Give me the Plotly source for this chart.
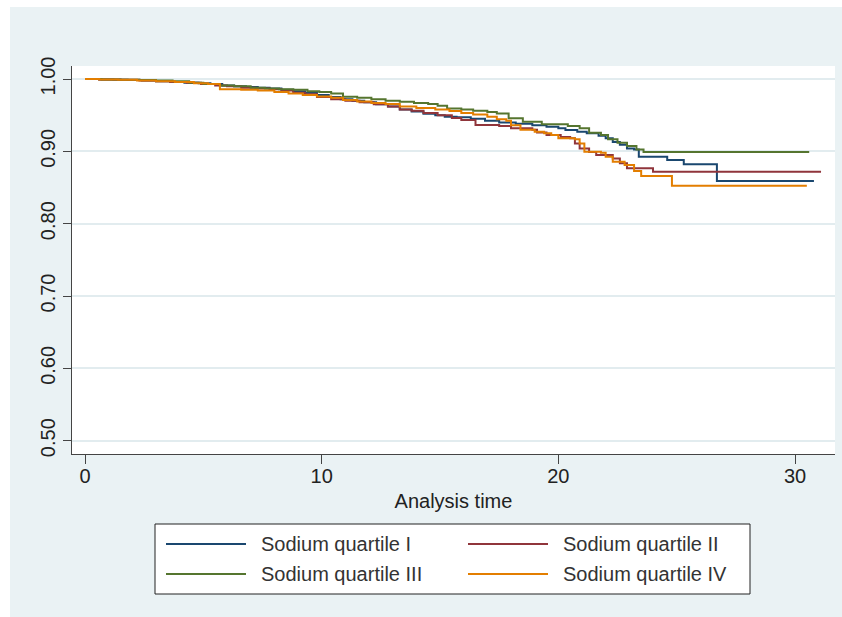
import plotly.graph_objects as go

# ---- data (Kaplan-Meier step knots) ----
series_names = ["Sodium quartile I", "Sodium quartile II", "Sodium quartile III", "Sodium quartile IV"]
series_colors = ["#1a476f", "#90353b", "#55752f", "#e37e00"]

t_q1 = [0, 0.6, 1.2, 1.8, 2.4, 3.0, 3.6, 4.2, 4.8, 5.3, 5.8, 6.3, 6.8, 7.3, 7.8, 8.3, 8.8, 9.3, 9.8,
        10.3, 10.8, 11.3, 11.8, 12.3, 12.8, 13.3, 13.8, 14.3, 14.8, 15.2, 15.7, 16.3, 16.9, 17.5, 18.2,
        18.9, 19.5, 20.0, 20.3, 20.8, 21.2, 21.7, 22.0, 22.3, 22.6, 22.9, 23.2, 23.4, 24.6, 25.3, 26.7, 30.8]
s_q1 = [1.0, 0.9995, 0.999, 0.9985, 0.998, 0.997, 0.996, 0.995, 0.994, 0.993, 0.991, 0.990, 0.989, 0.988,
        0.987, 0.985, 0.983, 0.981, 0.978, 0.975, 0.972, 0.970, 0.968, 0.965, 0.962, 0.958, 0.955, 0.952,
        0.950, 0.948, 0.947, 0.945, 0.9424, 0.940, 0.938, 0.936, 0.934, 0.932, 0.9295, 0.927, 0.925, 0.9216,
        0.918, 0.913, 0.909, 0.904, 0.9027, 0.8925, 0.888, 0.882, 0.859, 0.859]

t_q2 = [0, 0.6, 1.5, 2.3, 3.0, 3.6, 4.3, 4.9, 5.5, 6.0, 6.6, 7.2, 7.8, 8.3, 8.8, 9.3, 9.8, 10.4, 11.0,
        11.6, 12.2, 12.8, 13.3, 13.8, 14.3, 14.9, 15.5, 15.9, 16.5, 17.5, 18.0, 18.9, 19.1, 19.5, 20.1,
        20.5, 20.7, 20.9, 21.3, 21.6, 22.3, 22.6, 22.9, 24.0, 31.1]
s_q2 = [1.0, 0.9995, 0.999, 0.998, 0.997, 0.996, 0.995, 0.993, 0.991, 0.990, 0.988, 0.987, 0.986, 0.984,
        0.981, 0.979, 0.975, 0.972, 0.970, 0.968, 0.965, 0.962, 0.958, 0.956, 0.953, 0.950, 0.946, 0.9433,
        0.9364, 0.935, 0.9318, 0.930, 0.926, 0.9225, 0.920, 0.918, 0.911, 0.904, 0.899, 0.8949, 0.890,
        0.8834, 0.8765, 0.8718, 0.8718]

t_q3 = [0, 0.7, 1.5, 2.3, 3.0, 3.7, 4.4, 5.0, 5.7, 6.3, 7.0, 7.6, 8.2, 8.8, 9.4, 9.9, 10.4, 10.9, 11.5,
        12.1, 12.7, 13.3, 13.9, 14.5, 14.9, 15.3, 15.9, 16.4, 17.0, 17.4, 17.9, 18.5, 19.3, 20.4, 20.9,
        21.3, 21.8, 22.1, 22.5, 22.9, 23.3, 23.6, 30.6]
s_q3 = [1.0, 0.9995, 0.999, 0.9985, 0.998, 0.997, 0.995, 0.993, 0.991, 0.990, 0.988, 0.987, 0.986, 0.985,
        0.983, 0.982, 0.980, 0.9755, 0.974, 0.972, 0.970, 0.9686, 0.967, 0.9654, 0.963, 0.9594, 0.958,
        0.956, 0.9545, 0.9525, 0.9456, 0.941, 0.9373, 0.935, 0.9318, 0.9257, 0.9225, 0.9166, 0.912,
        0.9073, 0.9027, 0.899, 0.899]

t_q4 = [0, 0.6, 1.4, 2.2, 3.0, 3.8, 4.6, 5.2, 5.7, 6.6, 7.3, 8.0, 8.6, 9.2, 9.8, 10.4, 10.9, 11.5, 12.1,
        12.7, 13.3, 14.0, 14.8, 15.4, 15.9, 16.4, 17.0, 17.4, 17.8, 18.0, 18.4, 19.0, 19.4, 19.7, 20.0,
        20.7, 20.9, 21.1, 21.8, 22.0, 22.3, 22.8, 23.2, 23.5, 24.8, 30.5]
s_q4 = [1.0, 0.9995, 0.999, 0.998, 0.997, 0.996, 0.994, 0.993, 0.9857, 0.985, 0.984, 0.982, 0.980, 0.978,
        0.976, 0.974, 0.971, 0.969, 0.967, 0.9654, 0.962, 0.960, 0.958, 0.9557, 0.953, 0.951, 0.9479,
        0.9445, 0.9424, 0.936, 0.930, 0.927, 0.925, 0.9225, 0.918, 0.9166, 0.911, 0.8995, 0.898, 0.8925,
        0.8856, 0.881, 0.873, 0.866, 0.8524, 0.8524]

x_ticks = [0, 10, 20, 30]
y_ticks = [0.5, 0.6, 0.7, 0.8, 0.9, 1.0]
y_tick_labels = ["0.50", "0.60", "0.70", "0.80", "0.90", "1.00"]
x_title = "Analysis time"

times = [t_q1, t_q2, t_q3, t_q4]
survs = [s_q1, s_q2, s_q3, s_q4]

FONT = "Liberation Sans, Arial, Helvetica, sans-serif"
BG = "#EAF2F4"
GRID = "#E2ECEF"
AXC = "#444444"
TXT = "#222222"

fig = go.Figure()
for name, col, t, s in zip(series_names, series_colors, times, survs):
    fig.add_trace(go.Scatter(x=t, y=s, mode="lines", name=name,
                             line=dict(color=col, width=2, shape="hv"),
                             showlegend=False))

# plot area in pixels: x 72..835, y 66..454
W, H = 842, 617
L, R, T, B = 72, 835, 66, 454
pw, ph = R - L, B - T

def px(x):
    return (x - L) / pw

def py(y):
    return (B - y) / ph

shapes = []
# white strips outside the light-blue graph region
shapes.append(dict(type="rect", xref="paper", yref="paper", x0=px(-5), x1=px(10), y0=py(625), y1=py(-5),
                   fillcolor="white", line=dict(width=0), layer="below"))
shapes.append(dict(type="rect", xref="paper", yref="paper", x0=px(-5), x1=px(850), y0=py(7), y1=py(-5),
                   fillcolor="white", line=dict(width=0), layer="below"))
# legend box
shapes.append(dict(type="rect", xref="paper", yref="paper", x0=px(155), x1=px(750), y0=py(594), y1=py(524),
                   fillcolor="white", line=dict(color="#222222", width=1)))

leg_pos = [(166, 544), (468, 544), (166, 574), (468, 574)]
annotations = []
for (lx, ly), name, col in zip(leg_pos, series_names, series_colors):
    shapes.append(dict(type="line", xref="paper", yref="paper", x0=px(lx), x1=px(lx + 80),
                       y0=py(ly), y1=py(ly), line=dict(color=col, width=2)))
    annotations.append(dict(xref="paper", yref="paper", x=px(lx + 93), y=py(ly), text=name,
                            showarrow=False, xanchor="left", yanchor="middle",
                            font=dict(family=FONT, size=20, color="#333333")))

fig.update_layout(
    width=W, height=H,
    margin=dict(l=L, r=W - R, t=T, b=H - B, pad=0),
    paper_bgcolor=BG, plot_bgcolor="white",
    font=dict(family=FONT, size=20, color=TXT),
    shapes=shapes, annotations=annotations,
    showlegend=False,
)
fig.update_xaxes(range=[-0.55, 31.69], tickvals=x_ticks, ticks="outside", ticklen=9, tickwidth=1,
                 tickcolor=AXC, showline=True, linecolor=AXC, linewidth=1, showgrid=False,
                 zeroline=False, tickfont=dict(size=20, color=TXT), ticklabelstandoff=-5,
                 title=dict(text=x_title, font=dict(size=20, color=TXT), standoff=7))
fig.update_yaxes(range=[0.4816, 1.018], tickvals=y_ticks, ticktext=y_tick_labels, tickangle=-90,
                 ticks="outside", ticklen=8, tickwidth=1, tickcolor=AXC, showline=True, linecolor=AXC,
                 linewidth=1, showgrid=True, gridcolor=GRID, gridwidth=1.5, zeroline=False,
                 tickfont=dict(size=20, color=TXT))

fig.write_html("out.html", config={"displayModeBar": False},
               post_script="document.body.style.margin='0';document.body.style.padding='0';")
